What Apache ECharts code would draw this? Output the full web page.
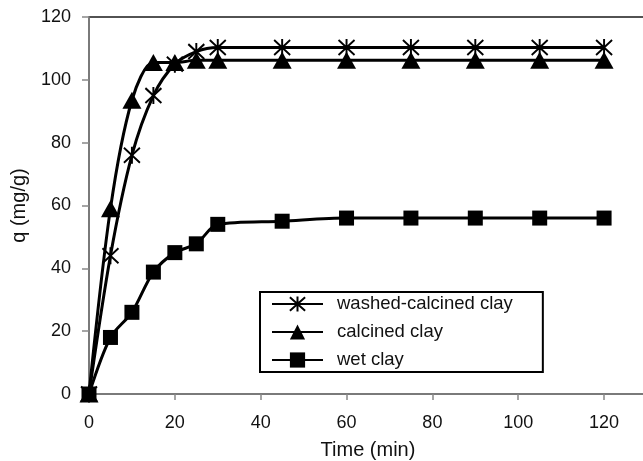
<!DOCTYPE html>
<html>
<head>
<meta charset="utf-8">
<script src="https://cdn.jsdelivr.net/npm/echarts@6/dist/echarts.min.js"></script>
<style>html,body{margin:0;padding:0;background:#fff}#c{width:643px;height:461px}</style>
</head>
<body>
<div id="c"></div>
<script>
const time = [0, 5, 10, 15, 20, 25, 30, 45, 60, 75, 90, 105, 120];
const washedCalcined = [0, 44, 76, 95, 105, 109, 110.3, 110.3, 110.3, 110.3, 110.3, 110.3, 110.3];
const calcined = [0, 59, 93.5, 105.5, 105.5, 106.2, 106.2, 106.2, 106.2, 106.2, 106.2, 106.2, 106.2];
const wetClay = [0, 18, 26, 38.8, 45, 47.8, 54, 55, 56, 56, 56, 56, 56];
const xTicks = [0, 20, 40, 60, 80, 100, 120];
const yTicks = [0, 20, 40, 60, 80, 100, 120];
const seriesNames = ['washed-calcined clay', 'calcined clay', 'wet clay'];

const asterisk = 'path://M0,-8L0,8M-7,-7L7,7M-7,7L7,-7';
const font = '"Liberation Sans", Arial, sans-serif';

function pairs(ys) { return time.map((t, i) => [t, ys[i]]); }

const chart = echarts.init(document.getElementById('c'), null, {renderer: 'canvas'});
const lineBase = {type: 'line', smooth: 0.3, lineStyle: {color: '#000', width: 3}, z: 3};
chart.setOption({
  animation: false,
  backgroundColor: '#fff',
  grid: {left: 89, top: 17, width: 558, height: 377, outerBoundsMode: 'none', containLabel: false,
    show: true, borderColor: '#1a1a1a', borderWidth: 1.5, backgroundColor: 'transparent'},
  xAxis: {
    type: 'value', min: 0, max: 130, interval: 20,
    name: 'Time (min)', nameLocation: 'middle', nameGap: 46,
    nameTextStyle: {fontFamily: font, fontSize: 20, color: '#111'},
    axisLine: {show: true, lineStyle: {color: '#888', width: 1.5}},
    axisTick: {show: true, length: 6, lineStyle: {color: '#888', width: 1.5}},
    axisLabel: {fontFamily: font, fontSize: 18, color: '#111', margin: 20,
      formatter: v => xTicks.includes(v) ? String(v) : ''},
    splitLine: {show: false}
  },
  yAxis: {
    type: 'value', min: 0, max: 120, interval: 20,
    name: 'q (mg/g)', nameLocation: 'middle', nameGap: 60, nameRotate: 90,
    nameTextStyle: {fontFamily: font, fontSize: 20, color: '#111'},
    axisLine: {show: true, lineStyle: {color: '#888', width: 1.5}},
    axisTick: {show: true, length: 7, lineStyle: {color: '#888', width: 1.5}},
    axisLabel: {fontFamily: font, fontSize: 18, color: '#111', margin: 18,
      formatter: v => yTicks.includes(v) ? String(v) : ''},
    splitLine: {show: false}
  },
  legend: {
    orient: 'vertical', left: 260, top: 292, align: 'left',
    backgroundColor: '#fff', borderColor: '#000', borderWidth: 2,
    padding: [2, 30, 2, 11],
    itemWidth: 51, itemHeight: 19, itemGap: 8,
    textStyle: {fontFamily: font, fontSize: 18.5, color: '#111', lineHeight: 20, padding: [0, 0, 0, 9]},
    data: seriesNames
  },
  series: [
    Object.assign({}, lineBase, {
      name: seriesNames[0], data: pairs(washedCalcined),
      symbol: asterisk, symbolSize: [16, 17],
      itemStyle: {color: 'rgba(0,0,0,0)', borderColor: '#000', borderWidth: 2}
    }),
    Object.assign({}, lineBase, {
      name: seriesNames[1], data: pairs(calcined),
      symbol: 'triangle', symbolSize: [19, 17],
      itemStyle: {color: '#000'}
    }),
    Object.assign({}, lineBase, {
      name: seriesNames[2], data: pairs(wetClay),
      symbol: 'rect', symbolSize: 15,
      itemStyle: {color: '#000'}
    })
  ]
});
</script>
</body>
</html>
